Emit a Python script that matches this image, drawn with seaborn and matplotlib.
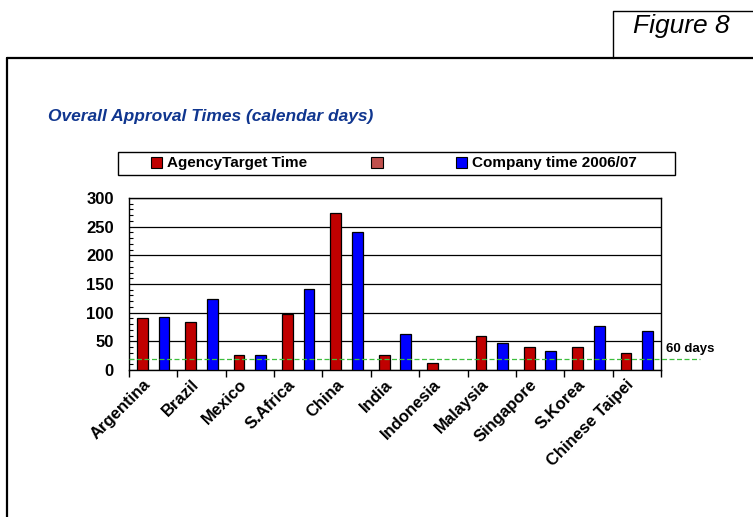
import matplotlib
matplotlib.use("Agg")
import matplotlib.pyplot as plt
import seaborn as sns
import numpy as np
import pandas as pd
from matplotlib.lines import Line2D
from matplotlib.patches import Patch, Rectangle

countries = ["Argentina", "Brazil", "Mexico", "S.Africa", "China", "India",
             "Indonesia", "Malaysia", "Singapore", "S.Korea", "Chinese Taipei"]
agency_target = [90, 84, 27, 98, 273, 27, 13, 59, 40, 40, 29]
company_time = [92, 123, 27, 141, 240, 63, np.nan, 47, 33, 77, 68]
series_names = ["AgencyTarget Time", " ", "Company time 2006/07"]
series_colors = ["#C00000", "#C0504D", "#0000FF"]
threshold = 20

df = pd.concat([
    pd.DataFrame({"country": countries, "days": agency_target, "series": series_names[0]}),
    pd.DataFrame({"country": countries, "days": company_time, "series": series_names[2]}),
], ignore_index=True)

sns.set_style("white")
plt.rcParams["font.family"] = ["Liberation Sans", "DejaVu Sans"]
plt.rcParams["text.color"] = "black"
plt.rcParams["xtick.color"] = "black"
plt.rcParams["ytick.color"] = "black"

fig = plt.figure(figsize=(7.53, 5.17), dpi=100)
ax = fig.add_axes([0.1713, 0.2843, 0.7065, 0.3327])

sns.barplot(data=df, x="country", y="days", hue="series", order=countries,
            hue_order=series_names, palette=dict(zip(series_names, series_colors)),
            width=0.67, saturation=1, edgecolor="black", linewidth=0.9,
            errorbar=None, legend=False, ax=ax, zorder=3)

ax.set_ylim(0, 300)
ax.set_xlim(-0.5, len(countries) - 0.5)
ax.set_yticks(range(0, 301, 50))
ax.set_yticks(range(0, 301, 10), minor=True)
ax.yaxis.grid(True, which="major", color="black", linewidth=0.9)
ax.set_axisbelow(True)
ax.set_xlabel("")
ax.set_ylabel("")
for s in ax.spines.values():
    s.set_visible(True)
    s.set_color("black")
    s.set_linewidth(1.0)

ax.tick_params(axis="y", which="major", direction="out", length=4, width=1,
               color="black", labelcolor="black", pad=7, labelsize=12)
ax.tick_params(axis="y", which="minor", direction="in", length=3, width=0.8,
               color="black", left=True)
for lab in ax.get_yticklabels():
    lab.set_fontweight("bold")

ax.set_xticks(range(len(countries)))
ax.set_xticks(np.arange(-0.5, len(countries), 1.0), minor=True)
ax.set_xticklabels(countries, rotation=45, ha="right", fontsize=12, fontweight="bold")
ax.tick_params(axis="x", which="major", length=0, pad=5, labelcolor="black")
ax.tick_params(axis="x", which="minor", direction="out", length=5, width=1,
               color="black", bottom=True)

# 60 days reference line
ax.axhline(threshold, xmin=0, xmax=1.073, color="#3DBE3D", linestyle=(0, (4, 2)),
           linewidth=0.9, clip_on=False, zorder=4)
ax.text(1.009, 36, "60 days", transform=ax.get_yaxis_transform(),
        fontsize=9.5, fontweight="bold", va="center", ha="left", color="black")

# legend in a box
handles = [Patch(facecolor=c, edgecolor="black", linewidth=0.8) for c in series_colors]
leg = fig.legend(handles, series_names, loc="center left",
                 bbox_to_anchor=(151 / 753, 1 - 163.5 / 517), ncol=3, frameon=False,
                 prop={"size": 11, "weight": "bold"}, handlelength=0.75,
                 handleheight=0.75, handletextpad=0.3, columnspacing=4.2,
                 borderpad=0, borderaxespad=0, labelcolor="black")
fig.add_artist(Rectangle((118 / 753, 1 - 175 / 517), 557 / 753, 23 / 517,
                         transform=fig.transFigure, fill=False,
                         edgecolor="black", linewidth=1.0))

fig.text(48 / 753, 1 - 116 / 517, "Overall Approval Times (calendar days)",
         fontsize=12.5, fontweight="bold", fontstyle="italic", color="#10368F",
         ha="left", va="center")

# page frame and figure tag
fig.add_artist(Line2D([7 / 753, 1], [1 - 58 / 517, 1 - 58 / 517],
                      transform=fig.transFigure, color="black", linewidth=1.6))
fig.add_artist(Line2D([7 / 753, 7 / 753], [1 - 58 / 517, 0],
                      transform=fig.transFigure, color="black", linewidth=1.6))
fig.add_artist(Line2D([613 / 753, 613 / 753, 1], [1 - 58 / 517, 1 - 11 / 517, 1 - 11 / 517],
                      transform=fig.transFigure, color="black", linewidth=1.0))
fig.text(681 / 753, 1 - 26 / 517, "Figure 8", fontsize=19, fontstyle="italic",
         ha="center", va="center", color="black")

fig.savefig("out.png", dpi=100)
